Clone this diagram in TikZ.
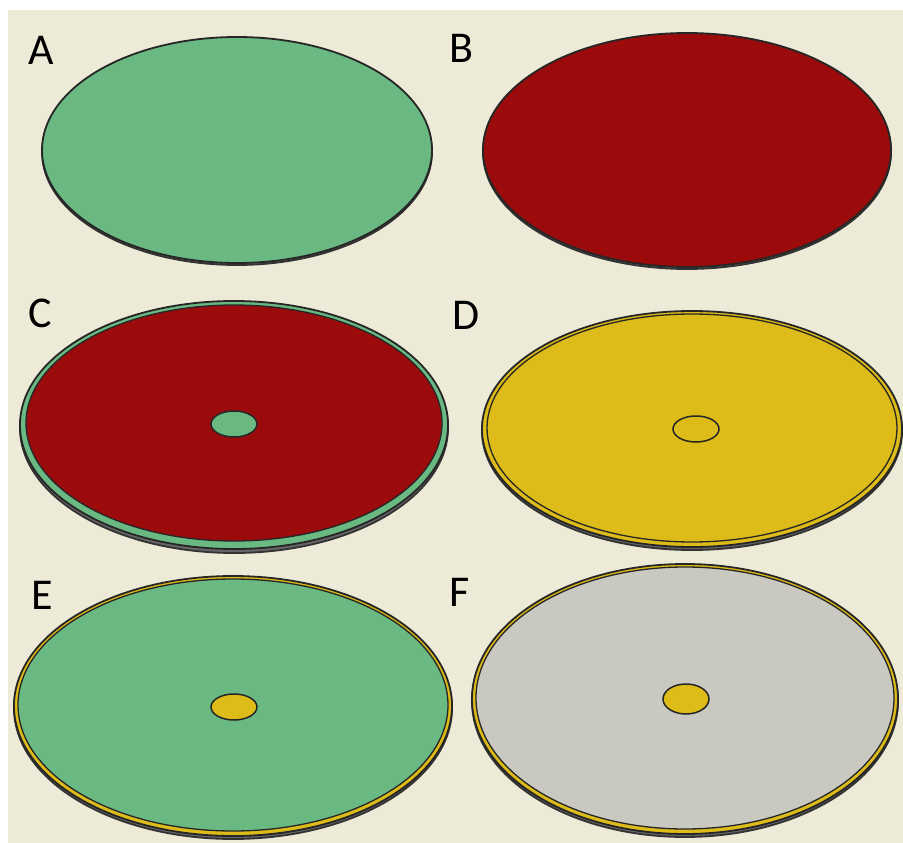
\documentclass[tikz,border=0pt]{standalone}
\usepackage{fontspec}
\setmainfont{Carlito}

\definecolor{paper}{HTML}{EDEBD7}
\definecolor{leaf}{HTML}{6AB983}
\definecolor{wine}{HTML}{9B0B0B}
\definecolor{gold}{HTML}{DDBB18}
\definecolor{ash}{HTML}{C9C9C1}

\begin{document}
\begin{tikzpicture}[x=1pt, y=-1pt]

  \tikzstyle{side}  = [draw=black!80, fill=black!60, line width=1.8pt]
  \tikzstyle{face}  = [draw=black!85, line width=1.8pt]
  \tikzstyle{rim}   = [draw=black!85, line width=1.3pt]
  \tikzstyle{hole}  = [draw=black!85, line width=1.5pt]
  \tikzstyle{lbl}   = [font=\fontsize{44}{44}\selectfont, anchor=center]

  % ---- PAPER ----
  \useasboundingbox (0,0) rectangle (903,843);
  \fill[white] (0,0) rectangle (903,843);
  \fill[paper] (8,10) rectangle (903,843);

  % ---- DISKS (left column A, C, E; right column B, D, F) ----

  % A: plain green disk
  \draw[side] (237,152) ellipse [x radius=195pt, y radius=113pt];
  \draw[face,fill=leaf] (237,150) ellipse [x radius=195pt, y radius=113pt];

  % B: plain red disk
  \draw[side] (687,152) ellipse [x radius=204pt, y radius=117pt];
  \draw[face,fill=wine] (687,150) ellipse [x radius=204pt, y radius=117pt];

  % C: red top on green base, green core
  \draw[side] (234,428) ellipse [x radius=214pt, y radius=125pt];
  \draw[face,fill=leaf] (234,425) ellipse [x radius=214pt, y radius=124pt];
  \draw[rim,fill=wine] (234,423) ellipse [x radius=208pt, y radius=118pt];
  \draw[hole,fill=leaf] (234,424) ellipse [x radius=23pt, y radius=13pt];

  % D: yellow with double rim, open core
  \draw[side] (692,431) ellipse [x radius=210pt, y radius=119pt];
  \draw[face,fill=gold] (692,429) ellipse [x radius=210pt, y radius=118pt];
  \draw[rim,fill=gold] (692,428) ellipse [x radius=205pt, y radius=114pt];
  \draw[hole,fill=gold] (696,429) ellipse [x radius=23pt, y radius=13pt];

  % E: green top inside yellow rim, yellow core
  \draw[side] (233,708) ellipse [x radius=219pt, y radius=131pt];
  \draw[face,fill=gold] (233,706) ellipse [x radius=219pt, y radius=130pt];
  \draw[rim,fill=leaf] (233,705) ellipse [x radius=215pt, y radius=126pt];
  \draw[hole,fill=gold] (234,707) ellipse [x radius=23pt, y radius=13pt];

  % F: grey top inside yellow rim, yellow core
  \draw[side] (685,701) ellipse [x radius=213pt, y radius=136pt];
  \draw[face,fill=gold] (685,699) ellipse [x radius=213pt, y radius=135pt];
  \draw[rim,fill=ash] (685,698) ellipse [x radius=209pt, y radius=131pt];
  \draw[hole,fill=gold] (686,699) ellipse [x radius=23pt, y radius=15pt];

  % ---- LABELS ----
  \node[lbl] (labA) at (41,50)  {A};
  \node[lbl] (labB) at (461,48) {B};
  \node[lbl] (labC) at (40,313) {C};
  \node[lbl] (labD) at (466,315) {D};
  \node[lbl] (labE) at (42,595) {E};
  \node[lbl] (labF) at (460,592) {F};

\end{tikzpicture}
\end{document}
